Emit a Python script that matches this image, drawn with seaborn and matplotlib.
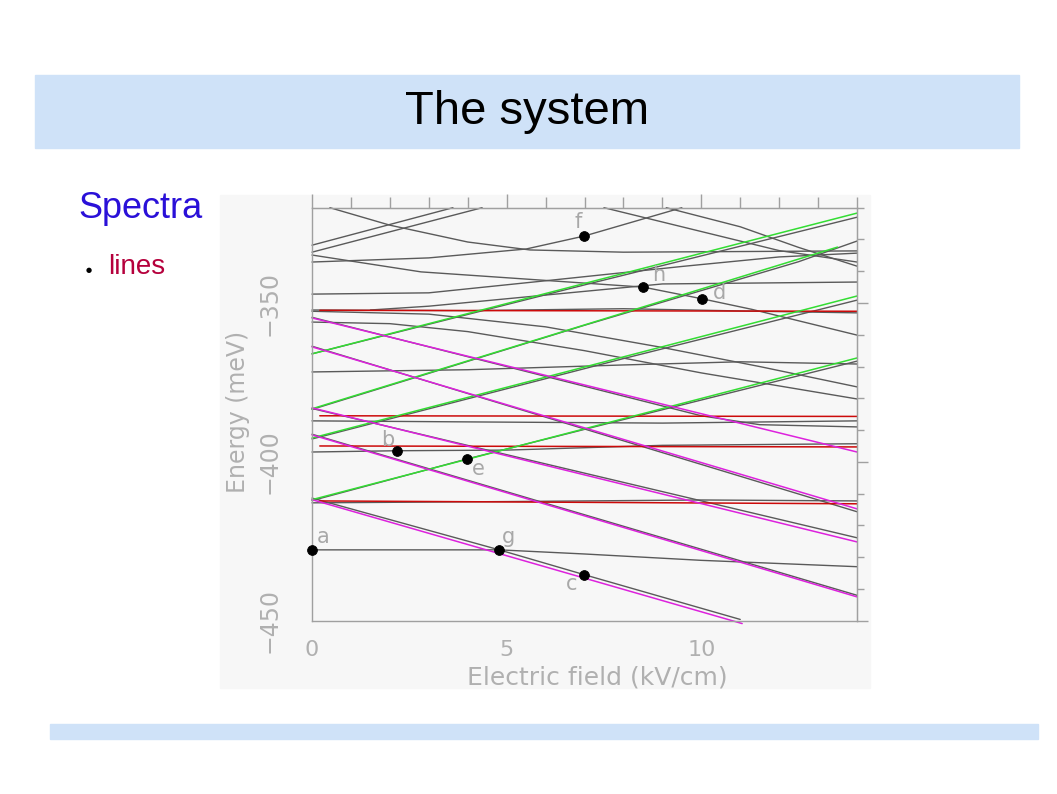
import pandas as pd
import matplotlib
matplotlib.use("Agg")
import matplotlib.pyplot as plt
from matplotlib.patches import Rectangle
from matplotlib.ticker import MultipleLocator
import seaborn as sns

# coloured diabatic states: field (kV/cm) and energy (meV)
green_x = [[0, 14], [0, 13.5], [0, 14], [0, 14]]
green_y = [[-366.0, -321.7], [-383.3, -332.4], [-392.5, -347.8], [-411.9, -367.3]]

magenta_x = [[0, 14], [0, 14], [0, 14], [0, 14], [0, 11.05]]
magenta_y = [[-354.7, -396.9], [-363.8, -414.8], [-383.0, -425.2],
             [-391.5, -442.5], [-411.9, -450.9]]

red_x = [[0.2, 14], [0.2, 14], [0.2, 14], [0.2, 14]]
red_y = [[-352.3, -352.6], [-385.5, -385.7], [-395.0, -395.3], [-412.3, -413.2]]

# computed (gray) levels
gray_x = [
    [0, 3.62],
    [0, 4.37],
    [0.46, 2.0, 4.0, 5.6, 8.0, 14.0],
    [0, 3.0, 5.5, 7.0, 9.5],
    [7.5, 10.0, 12.0, 14.0],
    [9.1, 11.0, 12.5, 14.0],
    [1.5, 3.0, 6.0, 9.0, 14.0],
    [0, 2.8, 8.51, 10.03, 11.3, 14.0],
    [0, 3.0, 6.0, 9.5, 12.0, 14.0],
    [0, 3.0, 6.0, 9.0, 11.5, 14.0],
    [0, 2.0, 4.0, 7.0, 10.0, 14.0],
    [0, 4.0, 8.0, 11.0, 14.0],
    [0, 4.0, 8.0, 11.0, 14.0],
    [0, 5.0, 9.0, 14.0],
    [0, 2.19, 5.0, 9.0, 14.0],
    [0, 5.0, 10.0, 14.0],
    [0, 4.81, 7.0, 10.0, 14.0],
    [0, 7, 14],
    [0, 7, 12.5, 14],
    [0, 8, 14],
    [0, 3.98, 9, 14],
    [0, 10, 11.5, 14],
    [0, 14],
    [0, 14],
    [0, 14],
    [0, 4.81, 6.99, 11.0],
]
gray_y = [
    [-331.8, -320.0],
    [-334.0, -320.0],
    [-320.0, -325.5, -330.8, -333.3, -334.0, -333.6],
    [-337.1, -335.8, -333.0, -328.9, -320.0],
    [-320.0, -327.5, -333.5, -337.1],
    [-320.0, -326.0, -332.5, -338.4],
    [-352.2, -351.0, -347.5, -344.0, -343.4],
    [-334.9, -340.2, -345.0, -348.7, -352.0, -360.1],
    [-347.2, -346.8, -343.0, -338.5, -335.5, -334.3],
    [-352.6, -353.5, -357.5, -364.0, -370.0, -376.4],
    [-356.0, -356.5, -359.0, -365.0, -372.0, -380.2],
    [-352.2, -352.4, -351.8, -352.5, -353.1],
    [-371.7, -371.0, -369.5, -368.5, -369.2],
    [-387.1, -387.5, -387.8, -387.1],
    [-396.9, -396.5, -396.3, -394.8, -394.3],
    [-412.9, -412.5, -412.0, -412.3],
    [-427.7, -427.7, -429.0, -431.0, -433.0],
    [-366.0, -344.3, -323.0],
    [-383.5, -357.0, -337.0, -330.5],
    [-392.8, -367.5, -349.1],
    [-412.2, -399.1, -383.6, -368.3],
    [-354.5, -385.5, -388.3, -389.0],
    [-363.6, -415.7],
    [-383.2, -423.9],
    [-391.3, -442.0],
    [-411.4, -427.7, -435.5, -449.6],
]

# marked states
dot_names = ["a", "b", "c", "d", "e", "f", "g", "h"]
dot_x = [0.0, 2.19, 6.99, 10.03, 3.98, 6.99, 4.81, 8.51]
dot_y = [-427.7, -396.5, -435.5, -348.7, -399.1, -328.9, -427.7, -345.0]
label_offsets = [(8, 9), (-7, 8), (-9, -7), (12, 4), (8, -7), (-4, 10), (7, 9), (11, 9)]


def to_frame(xs, ys, kind):
    rows = []
    for i, (lx, ly) in enumerate(zip(xs, ys)):
        for x, y in zip(lx, ly):
            rows.append({"line": f"{kind}{i}", "kind": kind, "field": x, "energy": y})
    return pd.DataFrame(rows)


gray_df = to_frame(gray_x, gray_y, "gray")
green_df = to_frame(green_x, green_y, "green")
magenta_df = to_frame(magenta_x, magenta_y, "magenta")
red_df = to_frame(red_x, red_y, "red")

sns.set_style("white")
plt.rcParams["font.family"] = ["DejaVu Sans"]

fig = plt.figure(figsize=(10.57, 7.94), dpi=100)
fig.patch.set_facecolor("white")

# slide decoration (behind everything)
for (x0, y0, w, h, c) in [(35, 75, 984, 73, "#cfe2f8"),
                          (50, 724, 988, 15, "#cfe2f8"),
                          (220, 195, 650, 493, "#f7f7f7")]:
    fig.patches.append(Rectangle((x0 / 1057, 1 - (y0 + h) / 794), w / 1057, h / 794,
                                 transform=fig.transFigure, color=c, zorder=-10))

fig.text(527 / 1057, 1 - 112 / 794, "The system", ha="center", va="center",
         fontsize=34, family="Liberation Sans", color="black")
fig.text(78 / 1057, 1 - 208 / 794, "Spectra", ha="left", va="center",
         fontsize=26, family="Liberation Sans", color="#2a10d8")
fig.text(89 / 1057, 1 - 270 / 794, "\u25cf", ha="center", va="center",
         fontsize=5, color="black")
fig.text(108 / 1057, 1 - 267 / 794, "lines", ha="left", va="center",
         fontsize=20, family="Liberation Sans", color="#b5003c")

ax = fig.add_axes([312 / 1057, 1 - 620.7 / 794, 545 / 1057, 413 / 794])
ax.set_facecolor("none")
ax.set_zorder(5)

sns.lineplot(data=gray_df, x="field", y="energy", units="line", estimator=None,
             sort=False, color="#5a5a5a", linewidth=1.0, legend=False, ax=ax)
sns.lineplot(data=red_df, x="field", y="energy", units="line", estimator=None,
             sort=False, color="#cc0a0a", linewidth=1.1, legend=False, ax=ax)
sns.lineplot(data=green_df, x="field", y="energy", units="line", estimator=None,
             sort=False, color="#33dd33", linewidth=1.1, legend=False, ax=ax)
sns.lineplot(data=magenta_df, x="field", y="energy", units="line", estimator=None,
             sort=False, color="#dd22dd", linewidth=1.1, legend=False, ax=ax)
for ln in ax.lines:
    ln.set_clip_on(False)

sns.scatterplot(x=dot_x, y=dot_y, color="black", s=50, edgecolor="black",
                zorder=5, ax=ax, clip_on=False)
for name, x, y, off in zip(dot_names, dot_x, dot_y, label_offsets):
    ax.annotate(name, (x, y), xytext=off, textcoords="offset points",
                ha="center", va="center", fontsize=15, color="#a8a8a8")

ax.set_xlim(0, 14)
ax.set_ylim(-450, -320)
ax.set_xticks([0, 5, 10])
ax.set_yticks([-450, -400, -350])
ax.xaxis.set_minor_locator(MultipleLocator(1))
ax.yaxis.set_minor_locator(MultipleLocator(10))
ax.set_yticklabels(["\u2212450", "\u2212400", "\u2212350"], rotation=90, va="center")
ax.set_xlabel("")
ax.set_ylabel("")

axis_col = "#a0a0a0"
for s in ax.spines.values():
    s.set_color(axis_col)
    s.set_linewidth(1.0)
ax.tick_params(axis="x", which="both", direction="out", length=4, width=1,
               color=axis_col, labelcolor="#b0b0b0", labelsize=16, pad=10)
ax.tick_params(axis="y", which="both", direction="out", length=10, width=1,
               color=axis_col, labelcolor="#b0b0b0", labelsize=17, pad=12)

top = ax.secondary_xaxis("top")
top.set_xticks([0, 5, 10])
top.xaxis.set_minor_locator(MultipleLocator(1))
top.tick_params(which="major", direction="out", length=10, width=1,
                color=axis_col, labeltop=False)
top.tick_params(which="minor", direction="out", length=8, width=1, color=axis_col)
top.spines["top"].set_color(axis_col)

right = ax.secondary_yaxis("right")
right.set_yticks([-450, -400, -350])
right.yaxis.set_minor_locator(MultipleLocator(10))
right.tick_params(which="major", direction="out", length=8, width=1,
                  color=axis_col, labelright=False)
right.tick_params(which="minor", direction="out", length=5, width=1, color=axis_col)
right.spines["right"].set_color(axis_col)

fig.text(238 / 1057, 1 - 412 / 794, "Energy (meV)", rotation=90, ha="center",
         va="center", fontsize=17, color="#b0b0b0")
fig.text(597 / 1057, 1 - 677 / 794, "Electric field (kV/cm)", ha="center",
         va="center", fontsize=18, color="#b0b0b0")

fig.savefig("out.png", dpi=100)
